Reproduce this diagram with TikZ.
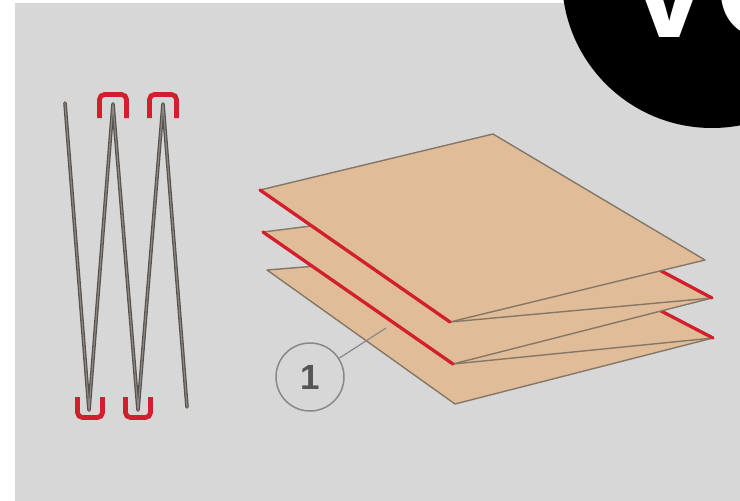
\documentclass[tikz,border=0pt]{standalone}
\usepackage{fontspec}
\setmainfont{Liberation Sans}
\definecolor{bggray}{HTML}{D7D7D7}
\definecolor{paperfill}{HTML}{E0BC98}
\definecolor{paperedge}{HTML}{857767}
\definecolor{foldred}{HTML}{D11F2E}
\definecolor{wireouter}{HTML}{55514E}
\definecolor{wireinner}{HTML}{8C8782}
\definecolor{calloutgray}{HTML}{888888}
\definecolor{digitgray}{HTML}{555555}
\begin{document}
\begin{tikzpicture}[x=1pt,y=-1pt,
  paper/.style={fill=paperfill, draw=paperedge, line width=1.4pt, line join=round},
  fold/.style={draw=foldred, line width=3.3pt, line cap=round},
  wire/.style={draw=wireouter, line width=3.6pt, line join=round, line cap=round},
  wirecore/.style={draw=wireinner, line width=1.2pt, line join=round, line cap=round},
  staple/.style={draw=foldred, line width=4.8pt, rounded corners=5pt},
  callout/.style={circle, draw=calloutgray, line width=1.5pt, minimum size=68pt, inner sep=0pt,
    text=digitgray, font=\fontsize{35}{35}\selectfont\bfseries},
  leader/.style={draw=calloutgray, line width=1.2pt}]
\useasboundingbox (0,0) rectangle (740,501);
\clip (0,0) rectangle (740,501);

% canvas and grey panel
\fill[white] (0,0) rectangle (740,501);
\fill[bggray] (15,3) rectangle (740,501);

% corner badge
\fill[black] (712,-22) circle[radius=150pt];
\node[anchor=base west, text=white, inner sep=0pt,
  font=\fontsize{138}{138}\selectfont\bfseries] (badge) at (623,37) {VO};

% ---- zig-zag wire with staples ----
\coordinate (w0) at (65,103);
\coordinate (w1) at (89,410);
\coordinate (w2) at (113,104);
\coordinate (w3) at (138,410);
\coordinate (w4) at (163,104);
\coordinate (w5) at (187,407);
\draw[wire] (w0) -- (w1) -- (w2) -- (w3) -- (w4) -- (w5);
\draw[wirecore] (w0) -- (w1) -- (w2) -- (w3) -- (w4) -- (w5);

\draw[staple] (99.5,118) -- (99.5,94.5) -- (126.5,94.5) -- (126.5,118);
\draw[staple] (149.5,118) -- (149.5,94.5) -- (176.5,94.5) -- (176.5,118);
\draw[staple] (77.5,397) -- (77.5,417.5) -- (102.5,417.5) -- (102.5,397);
\draw[staple] (125.5,397) -- (125.5,417.5) -- (150.5,417.5) -- (150.5,397);

% ---- interfolded sheets ----
\coordinate (L1) at (260,190);
\coordinate (B1) at (493,134);
\coordinate (R1) at (705,260);
\coordinate (F1) at (450,322);
\coordinate (L2) at (263,232);
\coordinate (B2) at (526,199);
\coordinate (R2) at (712,298);
\coordinate (F2) at (453,364);
\coordinate (L3) at (267,270);
\coordinate (B3) at (540,248);
\coordinate (R3) at (713,338);
\coordinate (F3) at (455,404);

% bottom panel
\draw[paper] (L3) -- (B3) -- (R3) -- (F3) -- cycle;
% inclined panel, lower
\draw[paper] (L2) -- (B3) -- (R3) -- (F2) -- cycle;
\draw[fold] (B3) -- (R3);
% middle panel
\draw[paper] (L2) -- (B2) -- (R2) -- (F2) -- cycle;
\draw[fold] (L2) -- (F2);
% inclined panel, upper
\draw[paper] (L1) -- (B2) -- (R2) -- (F1) -- cycle;
\draw[fold] (B2) -- (R2);
% top panel
\draw[paper] (L1) -- (B1) -- (R1) -- (F1) -- cycle;
\draw[fold] (L1) -- (F1);

% ---- callout ----
\node[callout] (c1) at (310,377) {1};
\coordinate (c1tip) at (386,328);
\draw[leader] (c1) -- (c1tip);
\end{tikzpicture}
\end{document}
